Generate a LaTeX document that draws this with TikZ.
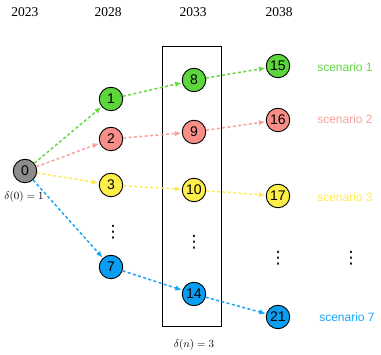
\documentclass[tikz,border=0pt]{standalone}
\usepackage{fontspec}
\setmainfont{Liberation Serif}
\setsansfont{Liberation Sans}
\newfontfamily\djv{DejaVu Sans}
\usetikzlibrary{arrows.meta}
\definecolor{cgreen}{HTML}{5CD63A}
\definecolor{cgreenL}{HTML}{66D843}
\definecolor{cred}{HTML}{F78F88}
\definecolor{credL}{HTML}{F9A29B}
\definecolor{cyellow}{HTML}{FDEE4A}
\definecolor{cyellowL}{HTML}{FDEB55}
\definecolor{cblue}{HTML}{0A9EF2}
\definecolor{cblueL}{HTML}{1AA6F5}
\definecolor{cgray}{HTML}{8C8C8C}
\tikzset{
  st/.style={circle,draw=black,line width=0.9pt,minimum size=23.5pt,inner sep=0pt,
    font=\sffamily\fontsize{14}{14}\selectfont},
  yr/.style={font=\fontsize{13.5}{14}\selectfont},
  scen/.style={font=\sffamily\fontsize{12}{12}\selectfont},
  lbl/.style={font=\fontsize{10.5}{11}\selectfont},
  vd/.style={inner sep=0pt,font=\djv\fontsize{17}{17}\selectfont},
  arr/.style={dashed,dash pattern=on 3pt off 2.4pt,line width=1.5pt,
    -{Latex[length=6.5pt,width=5.5pt]},shorten >=0.5pt},
}
\begin{document}
\begin{tikzpicture}[x=1pt,y=-1pt]
\useasboundingbox (0,0) rectangle (381,355);
% years
\node[yr] (y0) at (25,12) {2023};
\node[yr] (y1) at (108,12) {2028};
\node[yr] (y2) at (193,12) {2033};
\node[yr] (y3) at (279,12) {2038};
% box
\node[draw=black,line width=0.9pt,minimum width=59pt,minimum height=280pt,inner sep=0pt] (box) at (191.5,186) {};
% nodes
\node[st,fill=cgray] (n0) at (25,171) {0};
\node[st,fill=cgreen] (n1) at (111,99) {1};
\node[st,fill=cred] (n2) at (111,139) {2};
\node[st,fill=cyellow] (n3) at (111,185) {3};
\node[vd] (d1) at (113,232) {⋮};
\node[st,fill=cblue] (n7) at (111,267) {7};
\node[st,fill=cgreen] (n8) at (194,80) {8};
\node[st,fill=cred] (n9) at (194,132) {9};
\node[st,fill=cyellow] (n10) at (194,190) {10};
\node[vd] (d2) at (194,242) {⋮};
\node[st,fill=cblue] (n14) at (194,294) {14};
\node[st,fill=cgreen] (n15) at (278,66) {15};
\node[st,fill=cred] (n16) at (278,120) {16};
\node[st,fill=cyellow] (n17) at (278,196) {17};
\node[vd] (d3) at (278,258) {⋮};
\node[st,fill=cblue] (n21) at (278,317) {21};
\node[vd] (d4) at (351,258) {⋮};
% scenario labels
\node[scen,text=cgreenL] (s1) at (345,67) {scenario 1};
\node[scen,text=credL] (s2) at (345,119) {scenario 2};
\node[scen,text=cyellowL] (s3) at (345,197) {scenario 3};
\node[scen,text=cblueL] (s7) at (347,317) {scenario 7};
% labels
\node[lbl] (l0) at (24,197) {$\delta(0)=1$};
\node[lbl] (ln) at (194,345) {$\delta(n)=3$};
% arrows
\draw[arr,cgreenL] (n0) -- (n1);
\draw[arr,credL] (n0) -- (n2);
\draw[arr,cyellowL] (n0) -- (n3);
\draw[arr,cblueL] (n0) -- (n7);
\draw[arr,cgreenL] (n1) -- (n8);
\draw[arr,cgreenL] (n8) -- (n15);
\draw[arr,credL] (n2) -- (n9);
\draw[arr,credL] (n9) -- (n16);
\draw[arr,cyellowL] (n3) -- (n10);
\draw[arr,cyellowL] (n10) -- (n17);
\draw[arr,cblueL] (n7) -- (n14);
\draw[arr,cblueL] (n14) -- (n21);
\end{tikzpicture}
\end{document}
